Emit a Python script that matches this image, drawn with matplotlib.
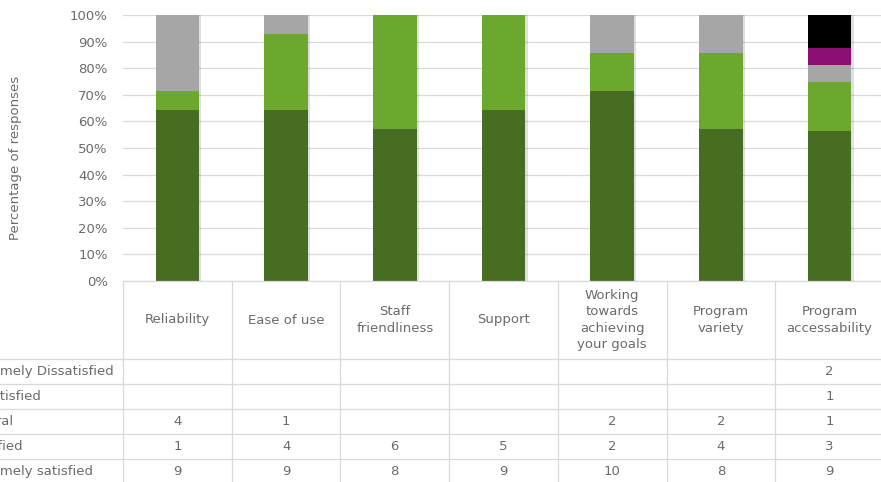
import numpy as np
import matplotlib
matplotlib.use("Agg")
import matplotlib.pyplot as plt
from matplotlib.lines import Line2D

categories = ["Reliability", "Ease of use", "Staff\nfriendliness", "Support",
              "Working\ntowards\nachieving\nyour goals", "Program\nvariety",
              "Program\naccessability"]
row_labels = ["Extremely Dissatisfied", "Dissatisfied", "Neutral", "Satisfied", "Extremely satisfied"]
ext_dissat = [0, 0, 0, 0, 0, 0, 2]
dissat     = [0, 0, 0, 0, 0, 0, 1]
neutral    = [4, 1, 0, 0, 2, 2, 1]
satisfied  = [1, 4, 6, 5, 2, 4, 3]
ext_sat    = [9, 9, 8, 9, 10, 8, 9]
yticks = [0, 10, 20, 30, 40, 50, 60, 70, 80, 90, 100]

colors = {"Extremely satisfied": "#476D22", "Satisfied": "#6CA72E", "Neutral": "#A6A6A6",
          "Dissatisfied": "#8C0F74", "Extremely Dissatisfied": "#000000"}
TXT = "#6a6a6a"; GRID = "#D9D9D9"; FS = 9.5

W, H = 881, 482
fig = plt.figure(figsize=(W/100, H/100), dpi=100)
L, R, T0, B0 = 123, 884, 15, 281  # pixel bounds of plot area
ax = fig.add_axes([L/W, 1-B0/H, (R-L)/W, (B0-T0)/H])

stack = [("Extremely satisfied", ext_sat), ("Satisfied", satisfied), ("Neutral", neutral),
         ("Dissatisfied", dissat), ("Extremely Dissatisfied", ext_dissat)]
tot = np.sum([np.array(v) for _, v in stack], axis=0)
x = np.arange(len(categories))
bw = 0.40
# soft shadow behind each whole bar
ax.bar(x + 0.016, 100, bw + 0.01, color="#000000", alpha=0.12, zorder=2)
bottom = np.zeros(len(x))
for name, vals in stack:
    p = np.array(vals) / tot * 100
    ax.bar(x, p, bw, bottom=bottom, color=colors[name], zorder=3)
    bottom += p

ax.set_xlim(-0.5, len(x) - 0.5)
ax.set_ylim(0, 100)
ax.set_yticks(yticks)
ax.set_yticklabels([f"{t}%" for t in yticks], color=TXT, fontsize=FS)
ax.tick_params(axis="y", length=0, pad=11)
ax.set_xticks([])
ax.grid(axis="y", color=GRID, lw=0.9, zorder=0)
for s in ax.spines.values():
    s.set_visible(False)
fig.text(16/W, 1-158/H, "Percentage of responses", rotation=90, ha="center", va="center",
         color=TXT, fontsize=FS)

# data table below plot
tab = fig.add_axes([L/W, 1-484/H, (R-L)/W, 203/H])
tab.set_xlim(-0.5, len(x) - 0.5)
tab.set_ylim(203, 0)
tab.axis("off")
hdr = 78; rh = 25
for i in range(len(x) + 1):
    tab.plot([i - 0.5, i - 0.5], [0, 203], color=GRID, lw=0.9, clip_on=False)
tab.plot([-0.5, len(x) - 0.5], [0, 0], color=GRID, lw=0.9, clip_on=False)
for k in range(len(row_labels)):
    yy = hdr + k * rh
    fig.add_artist(Line2D([0, R/W], [1-(281+yy)/H]*2, color=GRID, lw=0.9))
for i, c in enumerate(categories):
    tab.text(i, hdr/2, c, ha="center", va="center", color=TXT, fontsize=FS, linespacing=1.35)
for k, (lab, vals) in enumerate(zip(row_labels, [ext_dissat, dissat, neutral, satisfied, ext_sat])):
    yc = hdr + k * rh + rh/2
    # row labels start left of the visible area, as in the cropped original
    fig.text(-35/W, 1-(281+yc)/H, lab, ha="left", va="center", color=TXT, fontsize=FS)
    for i, v in enumerate(vals):
        if v:
            tab.text(i, yc, str(v), ha="center", va="center", color=TXT, fontsize=FS)

fig.savefig("out.png", dpi=100)
